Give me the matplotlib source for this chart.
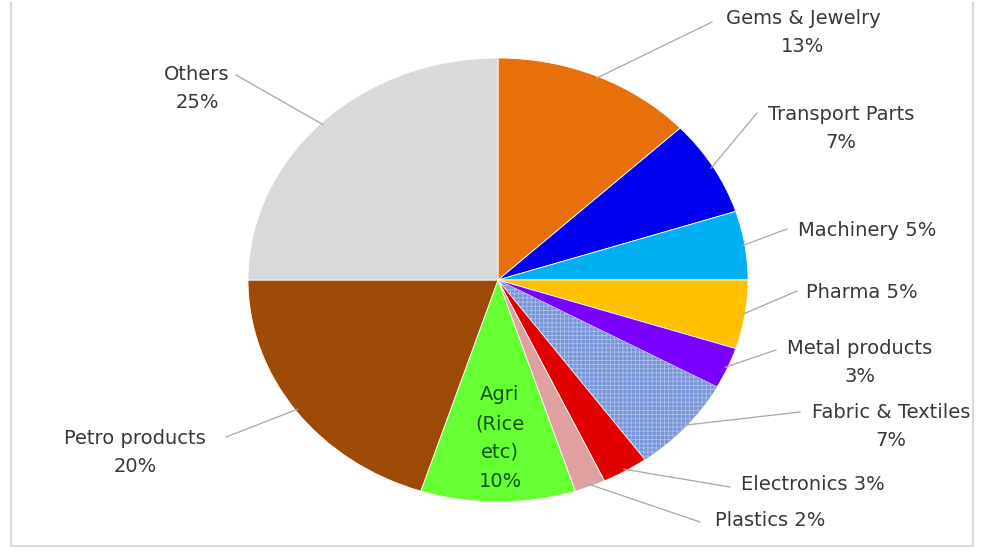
import matplotlib
matplotlib.use("Agg")
import matplotlib.pyplot as plt
from matplotlib.lines import Line2D
import numpy as np

categories = ["Gems & Jewelry", "Transport Parts", "Machinery", "Pharma",
              "Metal products", "Fabric & Textiles", "Electronics", "Plastics",
              "Agri (Rice etc)", "Petro products", "Others"]
shares = [13, 7, 5, 5, 3, 7, 3, 2, 10, 20, 25]
label_texts = ["Gems & Jewelry\n13%", "Transport Parts\n7%", "Machinery 5%",
               "Pharma 5%", "Metal products\n3%", "Fabric & Textiles\n7%",
               "Electronics 3%", "Plastics 2%", "Agri\n(Rice\netc)\n10%",
               "Petro products\n20%", "Others\n25%"]
colors = ["#E8700A", "#0000F0", "#00B0F0", "#FFC000", "#7A00FF", "#7893D6",
          "#E00000", "#E0A0A0", "#66FF33", "#9C4A06", "#D9D9D9"]

# layout (pixels, origin top-left)
W, H = 984, 554
label_pos = [(803, 33), (841, 128), (867, 230), (862, 293), (860, 363),
             (891, 426), (813, 484), (770, 520), (500, 438), (135, 452), (197, 88)]
leader_end = [(712, 22), (757, 113), (787, 229), (797, 291), (776, 350),
              (800, 412), (730, 487), (700, 522), None, (226, 437), (236, 75)]

plt.rcParams['font.family'] = ['DejaVu Sans']
plt.rcParams['hatch.linewidth'] = 0.6

fig = plt.figure(figsize=(W / 100, H / 100), dpi=100)
fig.patch.set_facecolor('white')

cx, cy = 498, 280
rx, ry = 250, 222
ax = fig.add_axes([(cx - rx) / W, (H - cy - ry) / H, 2 * rx / W, 2 * ry / H])
wedges, _ = ax.pie(shares, colors=colors, startangle=90, counterclock=False,
                   wedgeprops=dict(edgecolor='white', linewidth=0.6))
ax.set_aspect('auto')
ax.set_xlim(-1, 1)
ax.set_ylim(-1, 1)
ax.axis('off')

# hatched fabric slice
wedges[5].set_hatch('++++')
wedges[5].set_edgecolor('#A9C1EC')
wedges[5].set_linewidth(0)

def px2fig(x, y):
    return x / W, 1 - y / H

text_color = '#383838'
for i, (w, txt) in enumerate(zip(wedges, label_texts)):
    lx, ly = label_pos[i]
    color = '#145214' if i == 8 else text_color
    fig.text(*px2fig(lx, ly), txt, ha='center', va='center', fontsize=14,
             color=color, linespacing=1.6 if i != 8 else 1.65)
    if leader_end[i] is None:
        continue
    mid = np.deg2rad((w.theta1 + w.theta2) / 2)
    sx, sy = ax.transData.transform((np.cos(mid) * 0.99, np.sin(mid) * 0.99))
    ex, ey = leader_end[i]
    fx0, fy0 = sx / W, sy / H
    fx1, fy1 = px2fig(ex, ey)
    fig.add_artist(Line2D([fx0, fx1], [fy0, fy1], transform=fig.transFigure,
                          color='#A6A6A6', lw=0.9))

# light frame
for xs, ys in [([11, 11], [3, 546]), ([11, 973], [546, 546]), ([973, 973], [3, 546])]:
    fig.add_artist(Line2D([x / W for x in xs], [1 - y / H for y in ys],
                          transform=fig.transFigure, color='#DADADA', lw=1.5))

fig.savefig('out.png', dpi=100)
